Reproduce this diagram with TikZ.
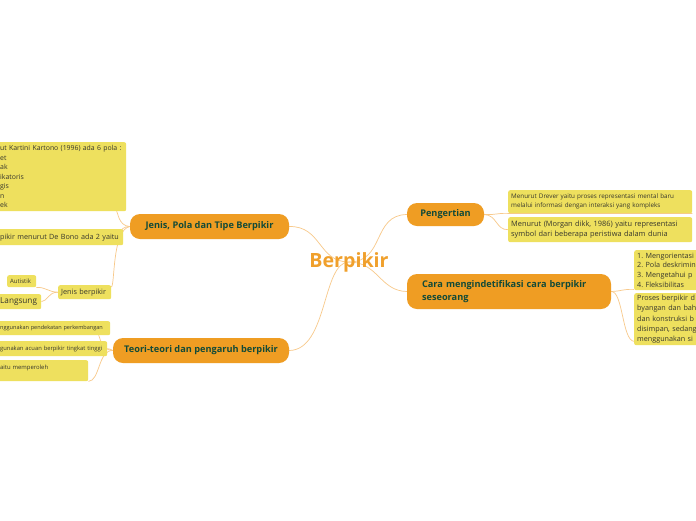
\documentclass[tikz,border=0pt]{standalone}
\usepackage{fontspec}
\setmainfont{Open Sans}
\usetikzlibrary{calc}
\frenchspacing
\definecolor{mainorange}{RGB}{239,157,35}
\definecolor{darktext}{RGB}{18,74,56}
\definecolor{leafyellow}{RGB}{238,224,94}
\definecolor{leaftext}{RGB}{55,55,45}
\definecolor{connorange}{RGB}{248,201,138}
\definecolor{roottext}{RGB}{240,160,44}
\pgfdeclarelayer{bglayer}
\pgfdeclarelayer{connlayer}
\pgfsetlayers{bglayer,connlayer,main}
\tikzset{
  mainbox/.style={fill=mainorange, text=darktext, font=\bfseries\fontsize{9.2}{12.5}\selectfont, rounded corners=10pt, inner sep=0pt, align=center},
  leaf/.style={fill=leafyellow, text=leaftext, rounded corners=2pt, inner ysep=0pt, inner xsep=3pt, align=left, anchor=north west},
  conn/.style={draw=connorange, line width=0.7pt},
}
\begin{document}
\begin{tikzpicture}[x=1pt,y=-1pt]
\useasboundingbox (0,0) rectangle (696,520);
\begin{pgfonlayer}{bglayer}
\fill[white] (0,0) rectangle (696,520);
\end{pgfonlayer}

% root
\node[font=\bfseries\fontsize{19.6}{24}\selectfont, text=roottext, inner sep=0pt] (root) at (349,262) {Berpikir};

% main topics
\node[mainbox, minimum width=77, minimum height=23] (peng) at (445.5,214.5) {Pengertian};
\node[mainbox, minimum width=204, minimum height=35, align=left, text width=174] (cara) at (509,291.5) {Cara mengindetifikasi cara berpikir\\seseorang};
\node[mainbox, minimum width=159, minimum height=25] (jenis) at (209.5,226.5) {Jenis, Pola dan Tipe Berpikir};
\node[mainbox, minimum width=176, minimum height=25] (teori) at (201,350.5) {Teori-teori dan pengaruh berpikir};

% Pengertian leaves
\node[leaf, text width=178, minimum height=23, font=\fontsize{6.3}{9}\selectfont] (d1) at (508,190) {Menurut Drever yaitu proses representasi mental baru\\melalui informasi dengan interaksi yang kompleks};
\node[leaf, text width=178, minimum height=25, font=\fontsize{7.4}{10}\selectfont] (d2) at (508,217) {Menurut (Morgan dikk, 1986) yaitu representasi\\symbol dari beberapa peristiwa dalam dunia};

% Cara leaves
\node[leaf, text width=100, minimum height=40, font=\fontsize{7.2}{9.7}\selectfont] (c1) at (634,250) {1. Mengorientasi\\2. Pola deskrimin\\3. Mengetahui p\\4. Fleksibilitas};
\node[leaf, text width=100, minimum height=52, font=\fontsize{7.2}{10.2}\selectfont] (c2) at (634,293) {Proses berpikir d\\byangan dan bah\\dan konstruksi b\\disimpan, sedang\\menggunakan si};

% Jenis leaves
\node[leaf, text width=123, minimum height=69, font=\fontsize{6.9}{9.5}\selectfont] (j1) at (-3,142) {ut Kartini Kartono (1996) ada 6 pola :\\et\\ak\\ikatoris\\gis\\n\\ek};
\node[leaf, text width=120, minimum height=16, font=\fontsize{7.2}{8}\selectfont] (j2) at (-3,229) {pikir menurut De Bono ada 2 yaitu};
\node[leaf, text width=47, minimum height=14, font=\fontsize{7.3}{8}\selectfont] (jb) at (58,285) {Jenis berpikir};
\node[leaf, text width=23, minimum height=12, font=\fontsize{6}{6}\selectfont] (au) at (7,275) {Autistik};
\node[leaf, text width=38, minimum height=15, font=\fontsize{8.2}{10}\selectfont] (la) at (-3,294) {Langsung};

% Teori leaves
\node[leaf, text width=107, minimum height=14, font=\fontsize{5.55}{7}\selectfont] (t1) at (-3,321) {\mbox{nggunakan pendekatan perkembangan}};
\node[leaf, text width=104, minimum height=15, font=\fontsize{5.8}{7}\selectfont] (t2) at (-3,341) {\mbox{gunakan acuan berpikir tingkat tinggi}};
\node[leaf, text width=85, minimum height=21, font=\fontsize{5.9}{7.5}\selectfont] (t3) at (-3,360) {aitu memperoleh\\\phantom{x}};

\begin{pgfonlayer}{connlayer}
% root connectors
\draw[conn] (root.center) .. controls (385,262) and (372,215) .. (peng.west);
\draw[conn] (root.center) .. controls (378,262) and (380,291) .. (cara.west);
\draw[conn] (root.center) .. controls (318,262) and (322,226) .. (jenis.east);
\draw[conn] (root.center) .. controls (322,262) and (328,350) .. (teori.east);
% Pengertian
\draw[conn] (peng.east) .. controls (497,215) and (496,213) .. (d1.south west) -- (d1.south east);
\draw[conn] (peng.east) .. controls (497,215) and (496,230) .. (d2.west);
% Cara
\draw[conn] (cara.east) .. controls (623,291) and (622,289) .. ($(c1.south west)+(0,-1)$);
\draw[conn] (cara.east) .. controls (623,291) and (622,340) .. ($(c2.south west)+(0,-4)$);
% Jenis
\draw[conn] (jenis.west) .. controls (118,226) and (118,211) .. ($(j1.south east)+(-10,0)$);
\draw[conn] (jenis.west) .. controls (118,226) and (118,240) .. ($(j2.south east)+(-6,0)$);
\draw[conn] (jenis.west) .. controls (112,230) and (115,285) .. ($(jb.north east)+(0,2)$);
\draw[conn] (jb.west) .. controls (48,292) and (46,287) .. (au.south east);
\draw[conn] (jb.west) .. controls (48,292) and (48,301) .. (la.east);
% Teori
\draw[conn] (teori.west) .. controls (100,350) and (100,335) .. ($(t1.south east)+(-12,0)$);
\draw[conn] (teori.west) .. controls (110,350) and (110,348) .. (t2.east);
\draw[conn] (teori.west) .. controls (98,350) and (100,381) .. (t3.south east);
\end{pgfonlayer}
\end{tikzpicture}
\end{document}
